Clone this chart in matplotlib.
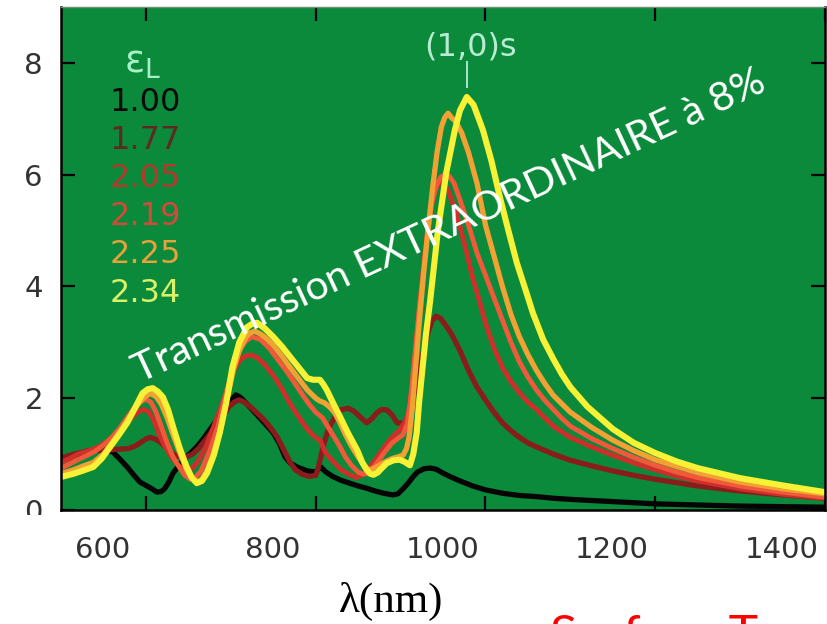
"""Transmission spectra for several dielectric layer permittivities."""

import numpy as np
import matplotlib
matplotlib.use("Agg")
import matplotlib.pyplot as plt
import matplotlib.transforms as mtransforms
from matplotlib.patches import Rectangle

# wavelength (nm) / transmission pairs for each eps_L
eps_labels = ["1.00", "1.77", "2.05", "2.19", "2.25", "2.34"]

wl_100 = [500, 510, 520, 530, 538, 550, 561, 570, 578, 586, 593, 600, 607, 613, 618, 622,
          627, 632, 640, 648, 654, 660, 668, 675, 685, 695, 701, 706, 711, 717, 728, 740,
          750, 757, 764, 770, 778, 790, 800, 806, 812, 820, 830, 840, 850, 860, 870, 880,
          891, 897, 903, 910, 915, 920, 928, 935, 942, 950, 958, 970, 985, 1000, 1020,
          1040, 1060, 1080, 1100, 1150, 1200, 1250, 1300, 1350, 1400]
tr_100 = [0.89, 0.95, 1.00, 1.05, 1.07, 1.07, 1.04, 0.90, 0.77, 0.62, 0.50, 0.44, 0.38, 0.32,
          0.33, 0.38, 0.50, 0.66, 0.82, 0.95, 1.04, 1.13, 1.28, 1.43, 1.64, 1.84, 1.97, 2.06,
          2.02, 1.93, 1.75, 1.55, 1.38, 1.20, 0.95, 0.84, 0.77, 0.70, 0.68, 0.77, 0.68, 0.60,
          0.53, 0.48, 0.43, 0.39, 0.34, 0.30, 0.27, 0.29, 0.38, 0.50, 0.60, 0.68, 0.74, 0.75,
          0.73, 0.66, 0.60, 0.52, 0.43, 0.36, 0.30, 0.26, 0.24, 0.21, 0.19, 0.15, 0.11, 0.09,
          0.07, 0.06, 0.05]

wl_177 = [500, 515, 530, 545, 560, 570, 580, 588, 595, 600, 605, 611, 618, 625, 632, 640,
          648, 655, 662, 670, 680, 690, 698, 704, 710, 716, 725, 732, 740, 748, 755, 760,
          765, 770, 776, 784, 792, 800, 803, 806, 810, 815, 822, 829, 838, 845, 852, 860,
          866, 872, 878, 884, 890, 896, 905, 910, 915, 920, 925, 932, 937, 942, 947, 952,
          960, 970, 980, 990, 1000, 1010, 1020, 1030, 1040, 1050, 1060, 1080, 1100, 1125,
          1150, 1175, 1200, 1250, 1300, 1350, 1400]
tr_177 = [0.93, 1.00, 1.05, 1.07, 1.08, 1.09, 1.10, 1.15, 1.22, 1.27, 1.30, 1.27, 1.20, 1.10,
          1.00, 0.95, 0.95, 1.00, 1.10, 1.25, 1.45, 1.66, 1.85, 1.93, 1.97, 1.93, 1.82, 1.72,
          1.60, 1.45, 1.30, 1.15, 1.00, 0.85, 0.72, 0.64, 0.60, 0.62, 0.75, 0.95, 1.20, 1.45,
          1.65, 1.79, 1.82, 1.77, 1.67, 1.56, 1.63, 1.74, 1.80, 1.79, 1.70, 1.56, 1.55, 1.70,
          2.00, 2.35, 2.70, 3.15, 3.38, 3.47, 3.43, 3.33, 3.15, 2.85, 2.50, 2.20, 1.97, 1.75,
          1.56, 1.42, 1.30, 1.20, 1.13, 1.00, 0.89, 0.79, 0.70, 0.62, 0.55, 0.43, 0.34, 0.27,
          0.21]

wl_205 = [500, 510, 520, 530, 540, 550, 560, 570, 580, 590, 597, 603, 609, 615, 622, 630,
          638, 645, 652, 660, 670, 680, 690, 698, 705, 712, 718, 725, 732, 740, 748, 755,
          762, 770, 780, 790, 798, 805, 808, 812, 820, 830, 840, 848, 854, 860, 868, 875,
          882, 890, 900, 906, 910, 915, 920, 930, 935, 940, 945, 950, 955, 960, 966, 972,
          978, 985, 990, 1000, 1010, 1020, 1030, 1040, 1050, 1060, 1070, 1080, 1090, 1100,
          1125, 1150, 1175, 1200, 1225, 1250, 1300, 1350, 1400]
tr_205 = [0.85, 0.92, 1.00, 1.05, 1.10, 1.18, 1.30, 1.44, 1.60, 1.75, 1.80, 1.76, 1.62, 1.38,
          1.15, 0.95, 0.80, 0.72, 0.72, 0.84, 1.10, 1.50, 1.90, 2.25, 2.55, 2.70, 2.76, 2.77,
          2.72, 2.60, 2.45, 2.30, 2.12, 1.90, 1.67, 1.45, 1.32, 1.25, 1.15, 1.02, 0.88, 0.72,
          0.63, 0.58, 0.62, 0.70, 0.85, 1.00, 1.15, 1.30, 1.45, 1.60, 1.80, 2.40, 3.20, 4.80,
          5.35, 5.70, 5.85, 5.83, 5.75, 5.55, 5.30, 4.95, 4.60, 4.15, 3.90, 3.35, 2.90, 2.55,
          2.30, 2.10, 1.93, 1.80, 1.65, 1.50, 1.40, 1.30, 1.13, 0.98, 0.84, 0.72, 0.61, 0.52,
          0.38, 0.28, 0.21]

wl_219 = [500, 510, 520, 530, 540, 550, 560, 570, 580, 588, 595, 600, 606, 612, 618, 625,
          632, 640, 646, 652, 658, 665, 675, 685, 692, 700, 706, 712, 718, 725, 735, 745,
          755, 765, 775, 785, 793, 800, 808, 814, 820, 828, 835, 842, 850, 856, 862, 868,
          875, 882, 890, 897, 903, 908, 912, 917, 922, 932, 937, 942, 947, 952, 957, 963,
          970, 980, 990, 1000, 1010, 1020, 1030, 1040, 1050, 1060, 1070, 1080, 1090, 1100,
          1125, 1150, 1175, 1200, 1225, 1250, 1300, 1350, 1400]
tr_219 = [0.75, 0.82, 0.90, 0.97, 1.05, 1.16, 1.30, 1.48, 1.70, 1.86, 1.95, 1.98, 1.93, 1.75,
          1.50, 1.20, 0.95, 0.75, 0.62, 0.55, 0.58, 0.70, 1.05, 1.50, 1.95, 2.40, 2.70, 2.90,
          3.03, 3.10, 3.05, 2.90, 2.70, 2.50, 2.28, 2.05, 1.88, 1.75, 1.65, 1.50, 1.35, 1.15,
          0.95, 0.80, 0.68, 0.64, 0.66, 0.76, 0.90, 1.05, 1.20, 1.28, 1.35, 1.55, 2.00, 2.80,
          3.60, 5.00, 5.50, 5.80, 5.95, 6.00, 5.98, 5.85, 5.55, 5.10, 4.60, 4.20, 3.80, 3.40,
          3.00, 2.65, 2.38, 2.15, 1.96, 1.80, 1.64, 1.50, 1.28, 1.10, 0.94, 0.80, 0.68, 0.58,
          0.43, 0.32, 0.23]

wl_225 = [500, 515, 525, 538, 550, 560, 570, 580, 590, 597, 602, 606, 612, 618, 625, 632,
          640, 648, 654, 660, 666, 672, 680, 688, 695, 703, 710, 718, 723, 728, 735, 742,
          750, 760, 770, 780, 790, 800, 805, 810, 816, 822, 828, 835, 842, 850, 856, 862,
          868, 875, 883, 890, 897, 903, 907, 910, 914, 918, 922, 927, 933, 938, 943, 948,
          952, 956, 960, 965, 972, 980, 990, 1000, 1010, 1020, 1030, 1040, 1050, 1060, 1070,
          1080, 1090, 1100, 1125, 1150, 1175, 1200, 1225, 1250, 1300, 1350, 1400]
tr_225 = [0.65, 0.72, 0.78, 0.85, 1.00, 1.20, 1.42, 1.65, 1.88, 2.00, 2.06, 2.08, 2.03, 1.90,
          1.65, 1.35, 1.02, 0.72, 0.57, 0.50, 0.55, 0.70, 1.02, 1.45, 1.95, 2.50, 2.85, 3.10,
          3.17, 3.20, 3.15, 3.07, 2.95, 2.76, 2.55, 2.35, 2.15, 2.00, 1.95, 1.92, 1.85, 1.75,
          1.58, 1.35, 1.15, 0.95, 0.82, 0.72, 0.74, 0.80, 0.87, 0.92, 0.95, 0.98, 1.10, 1.30,
          1.85, 2.60, 3.35, 4.20, 5.10, 5.80, 6.40, 6.85, 7.02, 7.10, 7.02, 6.95, 6.75, 6.40,
          5.85, 5.10, 4.55, 4.00, 3.50, 3.10, 2.78, 2.50, 2.26, 2.05, 1.90, 1.75, 1.48, 1.25,
          1.06, 0.90, 0.78, 0.67, 0.50, 0.38, 0.29]

wl_234 = [500, 515, 525, 538, 548, 558, 568, 578, 588, 596, 602, 608, 614, 620, 626, 632,
          640, 648, 654, 660, 666, 672, 680, 687, 695, 702, 710, 719, 725, 731, 740, 750,
          760, 770, 780, 790, 797, 805, 809, 813, 820, 829, 838, 849, 855, 860, 864, 868,
          873, 878, 884, 892, 899, 905, 911, 915, 919, 922, 926, 930, 935, 944, 954, 964,
          970, 978, 986, 997, 1007, 1017, 1027, 1037, 1047, 1056, 1068, 1080, 1090, 1100,
          1120, 1150, 1175, 1200, 1225, 1250, 1300, 1350, 1400]
tr_234 = [0.59, 0.65, 0.70, 0.77, 0.92, 1.13, 1.34, 1.56, 1.85, 2.09, 2.16, 2.18, 2.12, 2.02,
          1.80, 1.49, 1.10, 0.77, 0.58, 0.48, 0.52, 0.66, 0.98, 1.38, 1.95, 2.56, 3.00, 3.27,
          3.33, 3.35, 3.25, 3.10, 2.93, 2.74, 2.55, 2.36, 2.33, 2.33, 2.25, 2.15, 1.93, 1.66,
          1.38, 1.07, 0.85, 0.72, 0.65, 0.63, 0.67, 0.75, 0.84, 0.89, 0.90, 0.86, 0.80, 1.00,
          1.38, 1.95, 2.56, 3.15, 3.76, 5.00, 6.05, 6.80, 7.15, 7.39, 7.25, 6.80, 6.25, 5.60,
          5.00, 4.42, 3.95, 3.52, 3.05, 2.70, 2.43, 2.20, 1.85, 1.45, 1.20, 1.02, 0.87, 0.75,
          0.57, 0.44, 0.32]

x_ticks = [600, 800, 1000, 1200, 1400]
y_ticks = [0, 2, 4, 6, 8]

curves = [(wl_100, tr_100), (wl_177, tr_177), (wl_205, tr_205),
          (wl_219, tr_219), (wl_225, tr_225), (wl_234, tr_234)]
line_colors = ["#050505", "#8a1c1c", "#cf2f2a", "#f05a3a", "#f2a134", "#f8f236"]
text_colors = ["#0a0a0a", "#5e2a20", "#b33a2c", "#d24a3a", "#e6a23c", "#d8f06a"]
widths = [3.8, 3.8, 3.5, 3.5, 3.8, 4.4]

fig = plt.figure(figsize=(8.27, 6.24), dpi=100)
ax = fig.add_axes([61 / 827, 114 / 624, 764 / 827, 503 / 624])
ax.set_facecolor("#0a8a3a")

for (wl, tr), col, lw in zip(curves, line_colors, widths):
    ax.plot(wl, tr, color=col, lw=lw, solid_capstyle="round", solid_joinstyle="round")

ax.set_xlim(500, 1400)
ax.set_ylim(0, 9)
ax.set_xticks(x_ticks)
ax.set_yticks(y_ticks)
ax.tick_params(direction="in", length=10, width=1.6, top=True, right=True,
               labelsize=21, labelcolor="#333333", pad=13)
ax.tick_params(axis="x", pad=19)
for lbl in ax.get_xticklabels() + ax.get_yticklabels():
    lbl.set_family("DejaVu Sans")
for sp in ax.spines.values():
    sp.set_linewidth(1.8)
ax.spines["top"].set_color("#6f8f78")
ax.spines["top"].set_linewidth(1.0)

# tick labels on the wavelength axis sit a little left of their marks
shift = mtransforms.ScaledTranslation(-0.43, 0, fig.dpi_scale_trans)
for lbl in ax.get_xticklabels():
    lbl.set_transform(lbl.get_transform() + shift)

# legend of permittivities
ax.text(0.107, 0.889, r"$\mathregular{\varepsilon_L}$", transform=ax.transAxes,
        color="#a8f0c8", fontsize=27, ha="center", va="center", family="DejaVu Sans")
for i, (lab, col) in enumerate(zip(eps_labels, text_colors)):
    ax.text(0.110, 0.811 - i * 0.076, lab, transform=ax.transAxes, color=col,
            fontsize=23, ha="center", va="center", family="DejaVu Sans")

# (1,0) surface mode marker above the strongest peak
wl_pk = np.array(wl_234)
tr_pk = np.array(tr_234)
k = int(np.argmax(tr_pk))
ax.plot([wl_pk[k], wl_pk[k]], [tr_pk[k] + 0.17, tr_pk[k] + 0.62], color="#a8e8c8", lw=1.4)
ax.text(wl_pk[k] + 4, tr_pk[k] + 0.9, "(1,0)s", color="#b8ecd2", fontsize=23,
        ha="center", va="center", family="DejaVu Sans")

ax.text(0.508, 0.565, "Transmission EXTRAORDINAIRE à 8%", transform=ax.transAxes,
        color="white", fontsize=29.5, family="Lato", rotation=25,
        ha="center", va="center", rotation_mode="anchor")

# hide the lower half of the zero label
fig.patches.append(Rectangle((0, 0), 60 / 827, 109 / 624, transform=fig.transFigure,
                             facecolor="white", edgecolor="none", zorder=5))

fig.text(391 / 827, 1 - 601 / 624, "λ(nm)", fontsize=31, family="Liberation Serif",
         ha="center", va="center", color="black")
fig.text(550 / 827, -27 / 624, "Surface Transmission", fontsize=36, family="Lato",
         color="#ff0000", ha="left", va="baseline")

fig.savefig("out.png", dpi=100)
